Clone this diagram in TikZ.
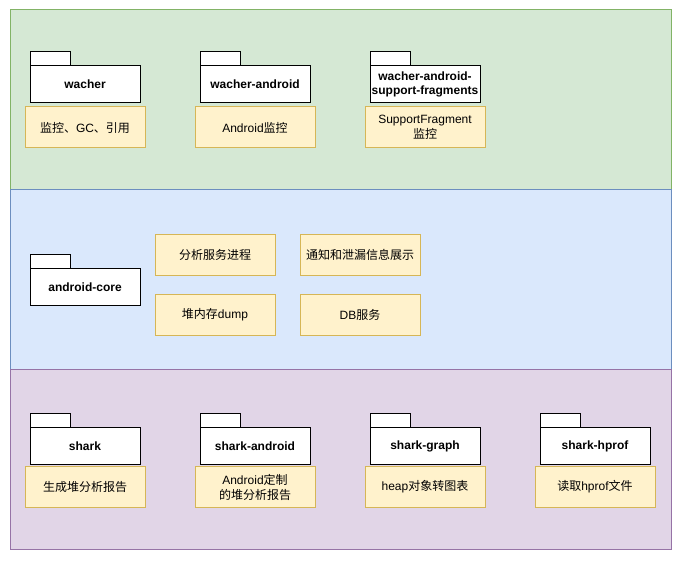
\documentclass[tikz,border=0pt]{standalone}
\usepackage{fontspec}
\setmainfont{Liberation Sans}
\newfontfamily\cjk{Noto Sans CJK SC}
\definecolor{gfill}{HTML}{D5E8D4}\definecolor{gline}{HTML}{82B366}
\definecolor{bfill}{HTML}{DAE8FC}\definecolor{bline}{HTML}{6C8EBF}
\definecolor{pfill}{HTML}{E1D5E7}\definecolor{pline}{HTML}{9673A6}
\definecolor{yfill}{HTML}{FFF2CC}\definecolor{yline}{HTML}{D6B656}
\begin{document}
\begin{tikzpicture}[x=1pt,y=-1pt,
  band/.style={draw=#1line, fill=#1fill, line width=1pt},
  pkg/.style={draw=black, fill=white, line width=1pt, outer sep=0pt, minimum width=110pt, minimum height=37pt, inner sep=1pt, align=center, font=\fontsize{12}{14.5}\selectfont\bfseries},
  pkgtab/.style={draw=black, fill=white, line width=1pt},
  note/.style={draw=yline, fill=yfill, line width=1pt, outer sep=0pt, minimum width=120pt, minimum height=41pt, inner sep=1pt, align=center, font=\fontsize{12}{15}\selectfont}]
\useasboundingbox (0,0) rectangle (681,561);
\fill[white] (0,0) rectangle (681,561);
% bands
\path[band=g] (10,10) rectangle (671,190);
\path[band=b] (10,190) rectangle (671,370);
\path[band=p] (10,370) rectangle (671,550);
% top row
\node[pkg] (wacher) at (85,84.5) {wacher};
\node[pkg] (wandroid) at (255,84.5) {wacher-android};
\node[pkg] (wsupport) at (425,84.5) {wacher-android-\\support-fragments};
\foreach \n in {wacher,wandroid,wsupport}
  \draw[pkgtab] (\n.north west) rectangle ++(40,-14);
\node[note] (n1) at (85,127.5) {{\cjk 监控、}GC{\cjk 、引用}};
\node[note] (n2) at (255,127.5) {Android{\cjk 监控}};
\node[note] (n3) at (425,127.5) {SupportFragment\\{\cjk 监控}};
% middle row
\node[pkg] (core) at (85,287) {android-core};
\draw[pkgtab] (core.north west) rectangle ++(40,-14);
\node[note] (m1) at (215,255) {{\cjk 分析服务进程}};
\node[note] (m2) at (360,255) {{\cjk 通知和泄漏信息展示}};
\node[note] (m3) at (215,315) {{\cjk 堆内存}dump};
\node[note] (m4) at (360,315) {DB{\cjk 服务}};
% bottom row
\node[pkg] (shark) at (85,446) {shark};
\node[pkg] (sandroid) at (255,446) {shark-android};
\node[pkg] (sgraph) at (425,446) {shark-graph};
\node[pkg] (shprof) at (595,446) {shark-hprof};
\foreach \n in {shark,sandroid,sgraph,shprof}
  \draw[pkgtab] (\n.north west) rectangle ++(40,-14);
\node[note] (b1) at (85,487) {{\cjk 生成堆分析报告}};
\node[note] (b2) at (255,487) {Android{\cjk 定制}\\{\cjk 的堆分析报告}};
\node[note] (b3) at (425,487) {heap{\cjk 对象转图表}};
\node[note] (b4) at (595,487) {{\cjk 读取}hprof{\cjk 文件}};
\end{tikzpicture}
\end{document}
